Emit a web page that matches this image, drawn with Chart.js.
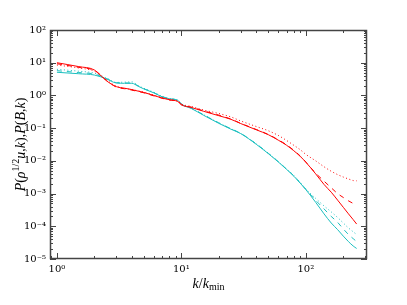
<!DOCTYPE html>
<html><head><meta charset="utf-8">
<script src="https://cdn.jsdelivr.net/npm/chart.js@4.4.1/dist/chart.umd.min.js"></script>
<style>html,body{margin:0;padding:0;background:#fff;}#wrap{width:407px;height:305px;}</style>
</head><body><div id="wrap"><canvas id="c" width="407" height="305"></canvas></div>
<script>
// wavenumber k/k_min
const k = [1,1.5,2,2.5,3,3.5,4,4.5,5,6,7,8,9,9.5,10,12,15,20,25,30,40,50,60,70,80,90,100,120,140,160,180,200,220,240,256];
// P(rho^1/2 u, k) — red
const redSolid  = [10,7.6,6.0,2.8,1.86,1.66,1.51,1.35,1.23,1.0,0.83,0.74,0.69,0.63,0.52,0.43,0.33,0.24,0.186,0.138,0.089,0.063,0.043,0.030,0.0204,0.0138,0.0091,0.0040,0.0019,0.0011,6.3e-4,3.8e-4,2.4e-4,1.6e-4,1.17e-4];
const redDashed = [9.3,7.2,5.8,2.9,1.8,1.6,1.45,1.32,1.2,0.97,0.82,0.72,0.68,0.62,0.52,0.44,0.34,0.25,0.19,0.14,0.091,0.064,0.044,0.031,0.021,0.0142,0.0092,0.0042,0.0024,0.0015,0.0010,7.6e-4,6.0e-4,5.0e-4,4.5e-4];
const redDotted = [8.5,6.9,5.5,3.0,1.9,1.65,1.5,1.38,1.25,1.02,0.86,0.76,0.7,0.65,0.55,0.46,0.36,0.28,0.22,0.166,0.112,0.083,0.06,0.042,0.030,0.022,0.0158,0.010,0.0066,0.0048,0.0038,0.0032,0.0028,0.0025,0.00245];
// P(B, k) — cyan
const cyanSolid  = [5.1,4.6,4.2,3.2,2.4,2.35,2.35,1.9,1.58,1.2,0.91,0.79,0.74,0.68,0.54,0.40,0.25,0.14,0.093,0.068,0.032,0.0166,0.0093,0.0055,0.0034,0.0021,0.00132,5.4e-4,2.4e-4,1.26e-4,7.9e-5,5.0e-5,3.4e-5,2.5e-5,2.1e-5];
const cyanDashed = [5.7,5.0,4.5,3.3,2.45,2.4,2.4,1.95,1.6,1.22,0.92,0.8,0.75,0.69,0.55,0.41,0.26,0.145,0.096,0.069,0.033,0.017,0.0095,0.0056,0.0035,0.0021,0.00135,6.2e-4,3.4e-4,2.0e-4,1.32e-4,8.3e-5,5.6e-5,4.2e-5,3.4e-5];
const cyanDotted = [6.3,5.5,4.8,3.4,2.5,2.55,2.6,2.0,1.65,1.25,0.93,0.8,0.75,0.69,0.55,0.41,0.26,0.145,0.096,0.069,0.033,0.017,0.0095,0.0056,0.0036,0.0022,0.0014,7.1e-4,4.2e-4,2.75e-4,1.86e-4,1.26e-4,8.9e-5,6.8e-5,5.6e-5];

const xTicks = [1,10,100];
const xTickLabels = ['10\u2070','10\u00b9','10\u00b2'];
const yTicks = [1e-5,1e-4,1e-3,1e-2,1e-1,1,10,100];
const yTickLabels = ['10\u207b\u2075','10\u207b\u2074','10\u207b\u00b3','10\u207b\u00b2','10\u207b\u00b9','10\u2070','10\u00b9','10\u00b2'];

const RED = '#ff0000', CYAN = '#1cbfbf';
function pts(ys){ return k.map((x,i)=>({x:x,y:ys[i]})); }
function ds(ys,color,dash){ return {data:pts(ys),borderColor:color,borderWidth:1,borderDash:dash,pointRadius:0,fill:false,tension:0,cubicInterpolationMode:'monotone'}; }

const frameTicks = {
  id:'frameTicks',
  afterDatasetsDraw(chart){
    const c = chart.ctx, a = chart.chartArea, xs = chart.scales.x, ys = chart.scales.y;
    c.save();
    c.strokeStyle = '#444'; c.lineWidth = 1;
    const minors = (lo,hi)=>{const r=[];for(let e=Math.floor(Math.log10(lo));e<=Math.ceil(Math.log10(hi));e++){for(let m=1;m<10;m++){const v=m*Math.pow(10,e);if(v>=lo*0.999&&v<=hi*1.001)r.push({v:v,major:m===1});}}return r;};
    c.beginPath();
    for(const t of minors(xs.min,xs.max)){
      const p = Math.round(xs.getPixelForValue(t.v))+0.5, L = t.major?6:3;
      c.moveTo(p,a.bottom); c.lineTo(p,a.bottom-L);
      c.moveTo(p,a.top); c.lineTo(p,a.top+L);
    }
    for(const t of minors(ys.min,ys.max)){
      const p = Math.round(ys.getPixelForValue(t.v))+0.5, L = t.major?6:3;
      c.moveTo(a.left,p); c.lineTo(a.left+L,p);
      c.moveTo(a.right,p); c.lineTo(a.right-L,p);
    }
    c.stroke();
    c.lineWidth = 1.5;
    c.strokeRect(a.left+0.5,a.top+0.5,a.right-a.left-1,a.bottom-a.top-1);
    function rich(segs){
      let w=0; for(const s of segs){c.font=s.f; w+=c.measureText(s.t).width;} return w;
    }
    function drawRich(segs,x,y){
      let cx=x; for(const s of segs){c.font=s.f; c.fillText(s.t,cx,y+(s.dy||0)); cx+=c.measureText(s.t).width;}
    }
    c.fillStyle='#000'; c.textBaseline='middle'; c.textAlign='left';
    const I='italic 14px "Liberation Serif"', R='14px "Liberation Serif"', S='10px "Liberation Serif"';
    const ySegs=[{t:'P',f:I},{t:'(',f:R},{t:'\u03c1',f:I},{t:'1/2',f:S,dy:-5},{t:'u',f:I},{t:',',f:R},{t:'k',f:I},{t:'),',f:R},{t:'P',f:I},{t:'(',f:R},{t:'B',f:I},{t:',',f:R},{t:'k',f:I},{t:')',f:R}];
    c.save(); c.translate(21,(a.top+a.bottom)/2); c.rotate(-Math.PI/2);
    const wy=rich(ySegs); drawRich(ySegs,-wy/2,0); c.restore();
    const xSegs=[{t:'k',f:I},{t:'/',f:R},{t:'k',f:I},{t:'min',f:S,dy:3}];
    const wx=rich(xSegs); drawRich(xSegs,(a.left+a.right)/2-wx/2,284);
    c.restore();
  }
};

new Chart(document.getElementById('c'),{
  type:'line',
  data:{datasets:[
    ds(redSolid,RED,[]), ds(redDashed,RED,[5,5]), ds(redDotted,RED,[1,2.5]),
    ds(cyanSolid,CYAN,[]), ds(cyanDashed,CYAN,[5,5]), ds(cyanDotted,CYAN,[1,2.5])
  ]},
  options:{
    responsive:false, animation:false,
    layout:{padding:{left:0,right:40,top:30,bottom:0}},
    plugins:{legend:{display:false},tooltip:{enabled:false}},
    scales:{
      x:{type:'logarithmic',min:0.88,max:310,
        afterBuildTicks(s){s.ticks=xTicks.map(v=>({value:v}));},
        afterFit(s){s.height=46;},
        grid:{display:false,drawTicks:false},border:{display:false},
        ticks:{autoSkip:false,maxRotation:0,padding:4,color:'#000',font:{family:'DejaVu Serif',size:10},
          callback(v){const i=xTicks.indexOf(v);return i>=0?xTickLabels[i]:'';}}},
      y:{type:'logarithmic',min:1e-5,max:100,
        afterBuildTicks(s){s.ticks=yTicks.map(v=>({value:v}));},
        afterFit(s){s.width=50;},
        grid:{display:false,drawTicks:false},border:{display:false},
        ticks:{autoSkip:false,padding:4,color:'#000',font:{family:'DejaVu Serif',size:10},
          callback(v){const i=yTicks.findIndex(t=>Math.abs(t-v)/t<1e-6);return i>=0?yTickLabels[i]:'';}}}
    }
  },
  plugins:[frameTicks]
});
</script></body></html>
